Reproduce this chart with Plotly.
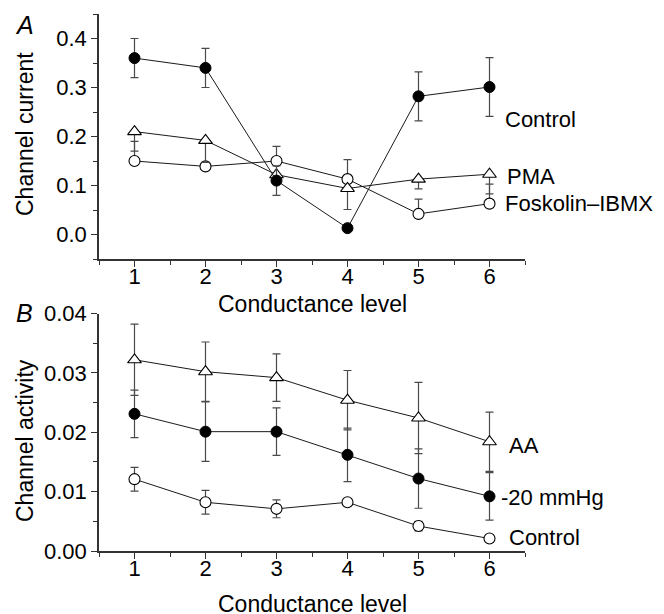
import plotly.graph_objects as go
from plotly.subplots import make_subplots

W, H = 664, 614
OFF = 8  # page body margin offset of the rendered figure

levels = [1, 2, 3, 4, 5, 6]
level_ticks = ["1", "2", "3", "4", "5", "6"]

# Panel A: channel current
a_control = [0.36, 0.34, 0.11, 0.013, 0.282, 0.301]
a_control_err = [0.04, 0.04, 0.03, 0.0, 0.05, 0.06]
a_pma = [0.21, 0.192, 0.122, 0.094, 0.113, 0.123]
a_pma_err_minus = [0.04, 0.045, 0.0, 0.043, 0.02, 0.04]
a_fosk = [0.15, 0.139, 0.15, 0.113, 0.042, 0.063]
a_fosk_err_plus = [0.04, 0.0, 0.03, 0.04, 0.03, 0.04]

# Panel B: channel activity
b_aa = [0.0322, 0.0302, 0.0292, 0.0254, 0.0224, 0.0184]
b_aa_err = [0.006, 0.005, 0.004, 0.005, 0.006, 0.005]
b_p20 = [0.0231, 0.0201, 0.0201, 0.0162, 0.0122, 0.0092]
b_p20_err = [0.004, 0.005, 0.004, 0.0045, 0.005, 0.004]
b_ctrl = [0.0121, 0.0082, 0.0071, 0.0082, 0.0042, 0.0021]
b_ctrl_err = [0.002, 0.002, 0.0015, 0.0005, 0.0008, 0.0003]

FONT = "Liberation Sans, Arial, Helvetica, sans-serif"
LINE = "#1a1a1a"
ERR = "#4a4a4a"

fig = make_subplots(rows=2, cols=1)

def add_series(row, y, marker, plus=None, minus=None, sym=None):
    fig.add_trace(go.Scatter(x=levels, y=y, mode="lines",
                             line=dict(color=LINE, width=1),
                             showlegend=False, hoverinfo="skip"), row=row, col=1)
    if sym is not None:
        ey = dict(type="data", array=sym, visible=True, color=ERR, thickness=1.2, width=4)
    else:
        ey = dict(type="data", symmetric=False,
                  array=plus if plus is not None else [0] * len(y),
                  arrayminus=minus if minus is not None else [0] * len(y),
                  visible=True, color=ERR, thickness=1.2, width=4)
    fig.add_trace(go.Scatter(x=levels, y=y, mode="markers", marker=marker,
                             error_y=ey, showlegend=False), row=row, col=1)

filled = dict(symbol="circle", size=11, color="black", line=dict(color="black", width=1))
opencirc = dict(symbol="circle", size=11, color="white", line=dict(color="black", width=1.1))
tri = dict(symbol="triangle-up", size=12, color="white", line=dict(color="black", width=1.1))

add_series(1, a_fosk, opencirc, plus=a_fosk_err_plus)
add_series(1, a_pma, tri, minus=a_pma_err_minus)
add_series(1, a_control, filled, sym=a_control_err)

add_series(2, b_ctrl, opencirc, sym=b_ctrl_err)
add_series(2, b_p20, filled, sym=b_p20_err)
add_series(2, b_aa, tri, sym=b_aa_err)

def px(x):
    return (x - OFF) / W

def py(y):
    return 1 - (y - OFF) / H

axis_common = dict(showline=True, linecolor="#333", linewidth=1.5, showgrid=False,
                   zeroline=False, ticks="outside", ticklen=6, tickwidth=1.2, automargin=False,
                   tickcolor="#333", tickfont=dict(family=FONT, size=22, color="black"))

xax = dict(axis_common, range=[0.5, 6.5], tickmode="array", tickvals=levels,
           ticktext=level_ticks, domain=[px(99), px(525)], ticklabelstandoff=-9,
           minor=dict(ticks="outside", ticklen=4, dtick=0.5, tick0=0.5, tickcolor="#333", tickwidth=1))
fig.update_layout(
    xaxis=dict(xax),
    xaxis2=dict(xax),
    yaxis=dict(axis_common, range=[-0.05, 0.45], tickvals=[0.0, 0.1, 0.2, 0.3, 0.4],
               tickformat=".1f", domain=[py(259), py(14)],
               minor=dict(ticks="outside", ticklen=4, dtick=0.05, tick0=0, tickcolor="#333", tickwidth=1)),
    yaxis2=dict(axis_common, range=[0, 0.04], tickvals=[0.0, 0.01, 0.02, 0.03, 0.04],
                tickformat=".2f", domain=[py(551), py(313.5)],
                minor=dict(ticks="outside", ticklen=4, dtick=0.005, tick0=0, tickcolor="#333", tickwidth=1)),
)

ann = []
def text(t, x, y, xanchor="left", size=22, italic=False, angle=0):
    s = t if not italic else "<i>" + t + "</i>"
    ann.append(dict(text=s, x=px(x), y=py(y), xref="paper", yref="paper",
                    xanchor=xanchor, yanchor="middle", showarrow=False, textangle=angle,
                    font=dict(family=FONT, size=size, color="black")))

text("A", 13, 25, size=25, italic=True)
text("B", 14, 313, size=25, italic=True)
text("Channel current", 25, 134, xanchor="center", angle=-90, size=23)
text("Channel activity", 25, 441, xanchor="center", angle=-90, size=23)
text("Conductance level", 312, 304, xanchor="center", size=23)
text("Conductance level", 312, 604, xanchor="center", size=23)

text("Control", 503, 120)
text("PMA", 505, 176)
text("Foskolin–IBMX", 503, 204)
text("AA", 507, 445)
text("-20 mmHg", 499, 497)
text("Control", 507, 537)

fig.update_layout(annotations=ann, width=W, height=H, autosize=False,
                  margin=dict(l=0, r=0, t=0, b=0, pad=0, autoexpand=False),
                  paper_bgcolor="white", plot_bgcolor="white",
                  font=dict(family=FONT, color="black"))

fig.write_html("out.html")
